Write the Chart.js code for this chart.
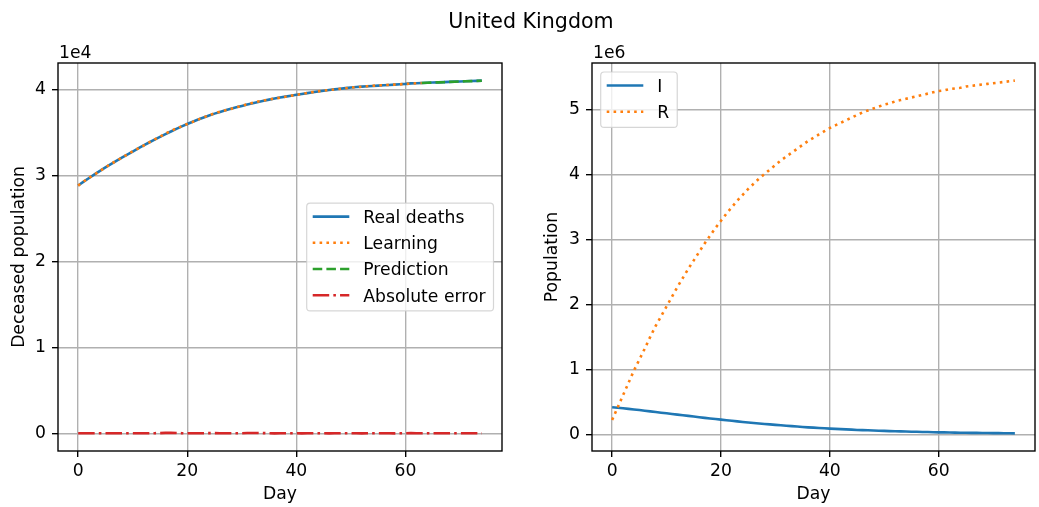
<!DOCTYPE html>
<html>
<head>
<meta charset="utf-8">
<script src="https://cdn.jsdelivr.net/npm/chart.js@4.4.1/dist/chart.umd.min.js"></script>
<style>
  body { margin: 0; background: #fff; }
  #fig { position: relative; width: 1039px; height: 507px; overflow: hidden; }
  .panel { position: absolute; top: 0; height: 507px; }
  #suptitle { position: absolute; left: 331px; top: 8px; width: 400px; text-align: center;
    font: 20.6px "DejaVu Sans", sans-serif; line-height: 26px; color: #000; z-index: 2; }
</style>
</head>
<body>
<div id="fig">
  <div id="suptitle">United Kingdom</div>
  <div class="panel" style="left:0;width:510px"><canvas id="deaths"></canvas></div>
  <div class="panel" style="left:534px;width:505px"><canvas id="sir"></canvas></div>
</div>
<script>
// day index 0..74
const days = Array.from({length: 75}, (_, i) => i);

const realDeaths = [
  28850, 29290, 29720, 30140, 30550, 30950, 31340, 31720, 32090, 32450,
  32800, 33160, 33510, 33850, 34180, 34500, 34820, 35130, 35430, 35720,
  36000, 36270, 36520, 36760, 36990, 37210, 37410, 37600, 37780, 37950,
  38100, 38260, 38420, 38570, 38710, 38840, 38960, 39080, 39190, 39300,
  39400, 39500, 39600, 39690, 39780, 39870, 39950, 40030, 40110, 40180,
  40250, 40300, 40350, 40390, 40430, 40470, 40510, 40550, 40590, 40630,
  40670, 40730, 40750, 40780, 40800, 40830, 40850, 40880, 40900, 40930,
  40950, 40980, 41000, 41020, 41050
];
// fitted part (days 0..63)
const learning = [
  28830, 29310, 29740, 30130, 30530, 30960, 31360, 31710, 32070, 32460,
  32820, 33150, 33490, 33860, 34200, 34530, 34880, 35200, 35480, 35740,
  36010, 36250, 36510, 36780, 37020, 37240, 37430, 37590, 37760, 37940,
  38120, 38300, 38470, 38620, 38740, 38850, 38960, 39070, 39170, 39280,
  39390, 39500, 39610, 39710, 39800, 39880, 39950, 40020, 40090, 40160,
  40230, 40290, 40350, 40400, 40450, 40490, 40530, 40560, 40590, 40620,
  40660, 40700, 40740, 40770
];
// forecast part (days 63..74)
const prediction = [40770, 40800, 40820, 40850, 40870, 40900, 40920, 40950, 40970, 40990, 41020, 41040];
const absError = [
  20, 20, 20, 10, 20, 10, 20, 10, 20, 10,
  20, 10, 20, 10, 20, 30, 60, 70, 50, 20,
  10, 20, 10, 20, 30, 30, 20, 10, 20, 10,
  20, 40, 50, 50, 30, 10, 0, 10, 20, 20,
  10, 0, 10, 20, 20, 10, 0, 10, 20, 20,
  20, 10, 0, 10, 20, 20, 20, 10, 0, 10,
  10, 30, 10, 10, 20, 10, 20, 10, 20, 10,
  20, 10, 20, 20, 10
];

const infected = [
  415000, 407000, 399000, 390000, 381000, 372000, 362000, 352000, 342000, 332000,
  322000, 312000, 302000, 292000, 282000, 272000, 262000, 252000, 243000, 234000,
  225000, 216000, 207000, 198000, 189000, 181000, 173000, 165000, 158000, 151000,
  144000, 137000, 130000, 124000, 118000, 112000, 106000, 101000, 96000, 91000,
  86000, 82000, 78000, 74000, 70000, 66000, 63000, 60000, 57000, 54000,
  51000, 48000, 46000, 43000, 41000, 39000, 37000, 35000, 33000, 31000,
  29000, 28000, 26000, 25000, 23000, 22000, 21000, 20000, 19000, 18000,
  17000, 16000, 15000, 14000, 13000
];
const recovered = [
  220000, 410000, 600000, 790000, 980000, 1150000, 1320000, 1500000, 1670000, 1820000,
  1970000, 2120000, 2270000, 2410000, 2550000, 2680000, 2810000, 2940000, 3060000, 3180000,
  3290000, 3400000, 3500000, 3600000, 3690000, 3780000, 3860000, 3940000, 4010000, 4080000,
  4150000, 4220000, 4280000, 4340000, 4400000, 4460000, 4520000, 4570000, 4620000, 4670000,
  4720000, 4760000, 4800000, 4840000, 4880000, 4920000, 4960000, 4990000, 5020000, 5050000,
  5080000, 5100000, 5130000, 5150000, 5170000, 5190000, 5210000, 5230000, 5250000, 5270000,
  5290000, 5300000, 5320000, 5330000, 5340000, 5360000, 5370000, 5380000, 5390000, 5400000,
  5410000, 5420000, 5430000, 5440000, 5450000
];

const xTicks = [0, 20, 40, 60];
const deathTicks = [0, 10000, 20000, 30000, 40000];
const popTicks = [0, 1000000, 2000000, 3000000, 4000000, 5000000];

const FS = 17.2;
Chart.defaults.font.family = '"DejaVu Sans", sans-serif';
Chart.defaults.font.size = FS;
Chart.defaults.color = '#000';

const pts = (xs, ys) => ys.map((y, i) => ({x: xs[i], y: y}));
const learnDays = days.slice(0, learning.length);
const predDays = days.slice(days.length - prediction.length);

const spines = {
  id: 'spines',
  afterDatasetsDraw(chart) {
    const {ctx, chartArea: a} = chart;
    ctx.save();
    ctx.strokeStyle = '#000';
    ctx.lineWidth = 1.38;
    ctx.strokeRect(a.left, a.top, a.right - a.left, a.bottom - a.top);
    ctx.restore();
  }
};

const offsetText = {
  id: 'offsetText',
  afterDraw(chart, args, opts) {
    const {ctx, chartArea: a} = chart;
    ctx.save();
    ctx.font = FS + 'px "DejaVu Sans"';
    ctx.fillStyle = '#000';
    ctx.textBaseline = 'alphabetic';
    ctx.fillText(opts.text, a.left + 1, a.top - 5.5);
    ctx.restore();
  }
};

// matplotlib-style legend box inside the axes
const boxLegend = {
  id: 'boxLegend',
  afterDraw(chart, args, opts) {
    const {ctx, chartArea: a} = chart;
    const sets = chart.data.datasets;
    ctx.save();
    ctx.font = FS + 'px "DejaVu Sans"';
    const textW = Math.max(...sets.map(d => ctx.measureText(d.label).width));
    const rowH = 26.2;
    const w = 56.6 + textW + 8;
    const h = sets.length * rowH + 3;
    let x, y;
    if (opts.loc === 'center right') {
      x = a.right - 8.5 - w;
      y = (a.top + a.bottom) / 2 - h / 2;
    } else {
      x = a.left + 8.7;
      y = a.top + 9;
    }
    ctx.beginPath();
    if (ctx.roundRect) ctx.roundRect(x, y, w, h, 3.5); else ctx.rect(x, y, w, h);
    ctx.fillStyle = 'rgba(255,255,255,0.8)';
    ctx.fill();
    ctx.strokeStyle = 'rgba(204,204,204,0.8)';
    ctx.lineWidth = 1.2;
    ctx.stroke();
    sets.forEach((d, i) => {
      const cy = y + 13.5 + i * rowH;
      ctx.beginPath();
      ctx.setLineDash(d.borderDash || []);
      ctx.strokeStyle = d.borderColor;
      ctx.lineWidth = d.borderWidth;
      ctx.lineCap = 'butt';
      ctx.moveTo(x + 6, cy);
      ctx.lineTo(x + 42.6, cy);
      ctx.stroke();
      ctx.setLineDash([]);
      ctx.fillStyle = '#000';
      ctx.textBaseline = 'alphabetic';
      ctx.fillText(d.label, x + 56.6, cy + 6.3);
    });
    ctx.restore();
  }
};

// later series drawn on top, like matplotlib
function line(label, data, color, dash, order) {
  return {
    label: label, data: data, borderColor: color, backgroundColor: color,
    borderWidth: 2.6, borderDash: dash, pointRadius: 0, tension: 0, order: order,
    borderCapStyle: 'butt', borderJoinStyle: 'round', fill: false
  };
}

const gridOpts = { color: '#b0b0b0', lineWidth: 1.38, tickColor: '#000', tickLength: 6, tickWidth: 1.38 };

function axes(yTicks, yMin, yMax, div, yTitle, titlePad) {
  return {
    x: {
      type: 'linear', min: -3.7, max: 77.7,
      grid: gridOpts, border: { display: false },
      afterBuildTicks: s => { s.ticks = xTicks.map(v => ({value: v})); },
      afterFit: s => { s.height = 56; },
      ticks: { padding: 4, maxRotation: 0, autoSkip: false },
      title: { display: true, text: 'Day', padding: { top: 0, bottom: 2 } }
    },
    y: {
      type: 'linear', min: yMin, max: yMax,
      grid: gridOpts, border: { display: false },
      afterBuildTicks: s => { s.ticks = yTicks.map(v => ({value: v})); },
      afterFit: s => { s.width = 58; },
      ticks: { padding: 6, autoSkip: false, callback: v => String(Math.round(v / div)) },
      title: { display: true, text: yTitle, padding: { top: titlePad, bottom: 0 } }
    }
  };
}

new Chart(document.getElementById('deaths'), {
  type: 'line',
  data: {
    datasets: [
      line('Real deaths', pts(days, realDeaths), '#1f77b4', [], 4),
      line('Learning', pts(learnDays, learning), '#ff7f0e', [2.6, 4.26], 3),
      line('Prediction', pts(predDays, prediction), '#2ca02c', [9.55, 4.13], 2),
      line('Absolute error', pts(days, absError), '#d62728', [16.5, 4.13, 2.58, 4.13], 1)
    ]
  },
  options: {
    responsive: true, maintainAspectRatio: false, animation: false,
    layout: { padding: { top: 63, right: 8, left: 0, bottom: 0 } },
    scales: axes(deathTicks, -2052, 43102, 1e4, 'Deceased population', 9),
    plugins: {
      legend: { display: false }, tooltip: { enabled: false },
      boxLegend: { loc: 'center right' },
      offsetText: { text: '1e4' }
    }
  },
  plugins: [spines, offsetText, boxLegend]
});

new Chart(document.getElementById('sir'), {
  type: 'line',
  data: {
    datasets: [
      line('I', pts(days, infected), '#1f77b4', [], 2),
      line('R', pts(days, recovered), '#ff7f0e', [2.6, 4.26], 1)
    ]
  },
  options: {
    responsive: true, maintainAspectRatio: false, animation: false,
    layout: { padding: { top: 63, right: 4, left: 0, bottom: 0 } },
    scales: axes(popTicks, -258850, 5721850, 1e6, 'Population', 8),
    plugins: {
      legend: { display: false }, tooltip: { enabled: false },
      boxLegend: { loc: 'upper left' },
      offsetText: { text: '1e6' }
    }
  },
  plugins: [spines, offsetText, boxLegend]
});
</script>
</body>
</html>
